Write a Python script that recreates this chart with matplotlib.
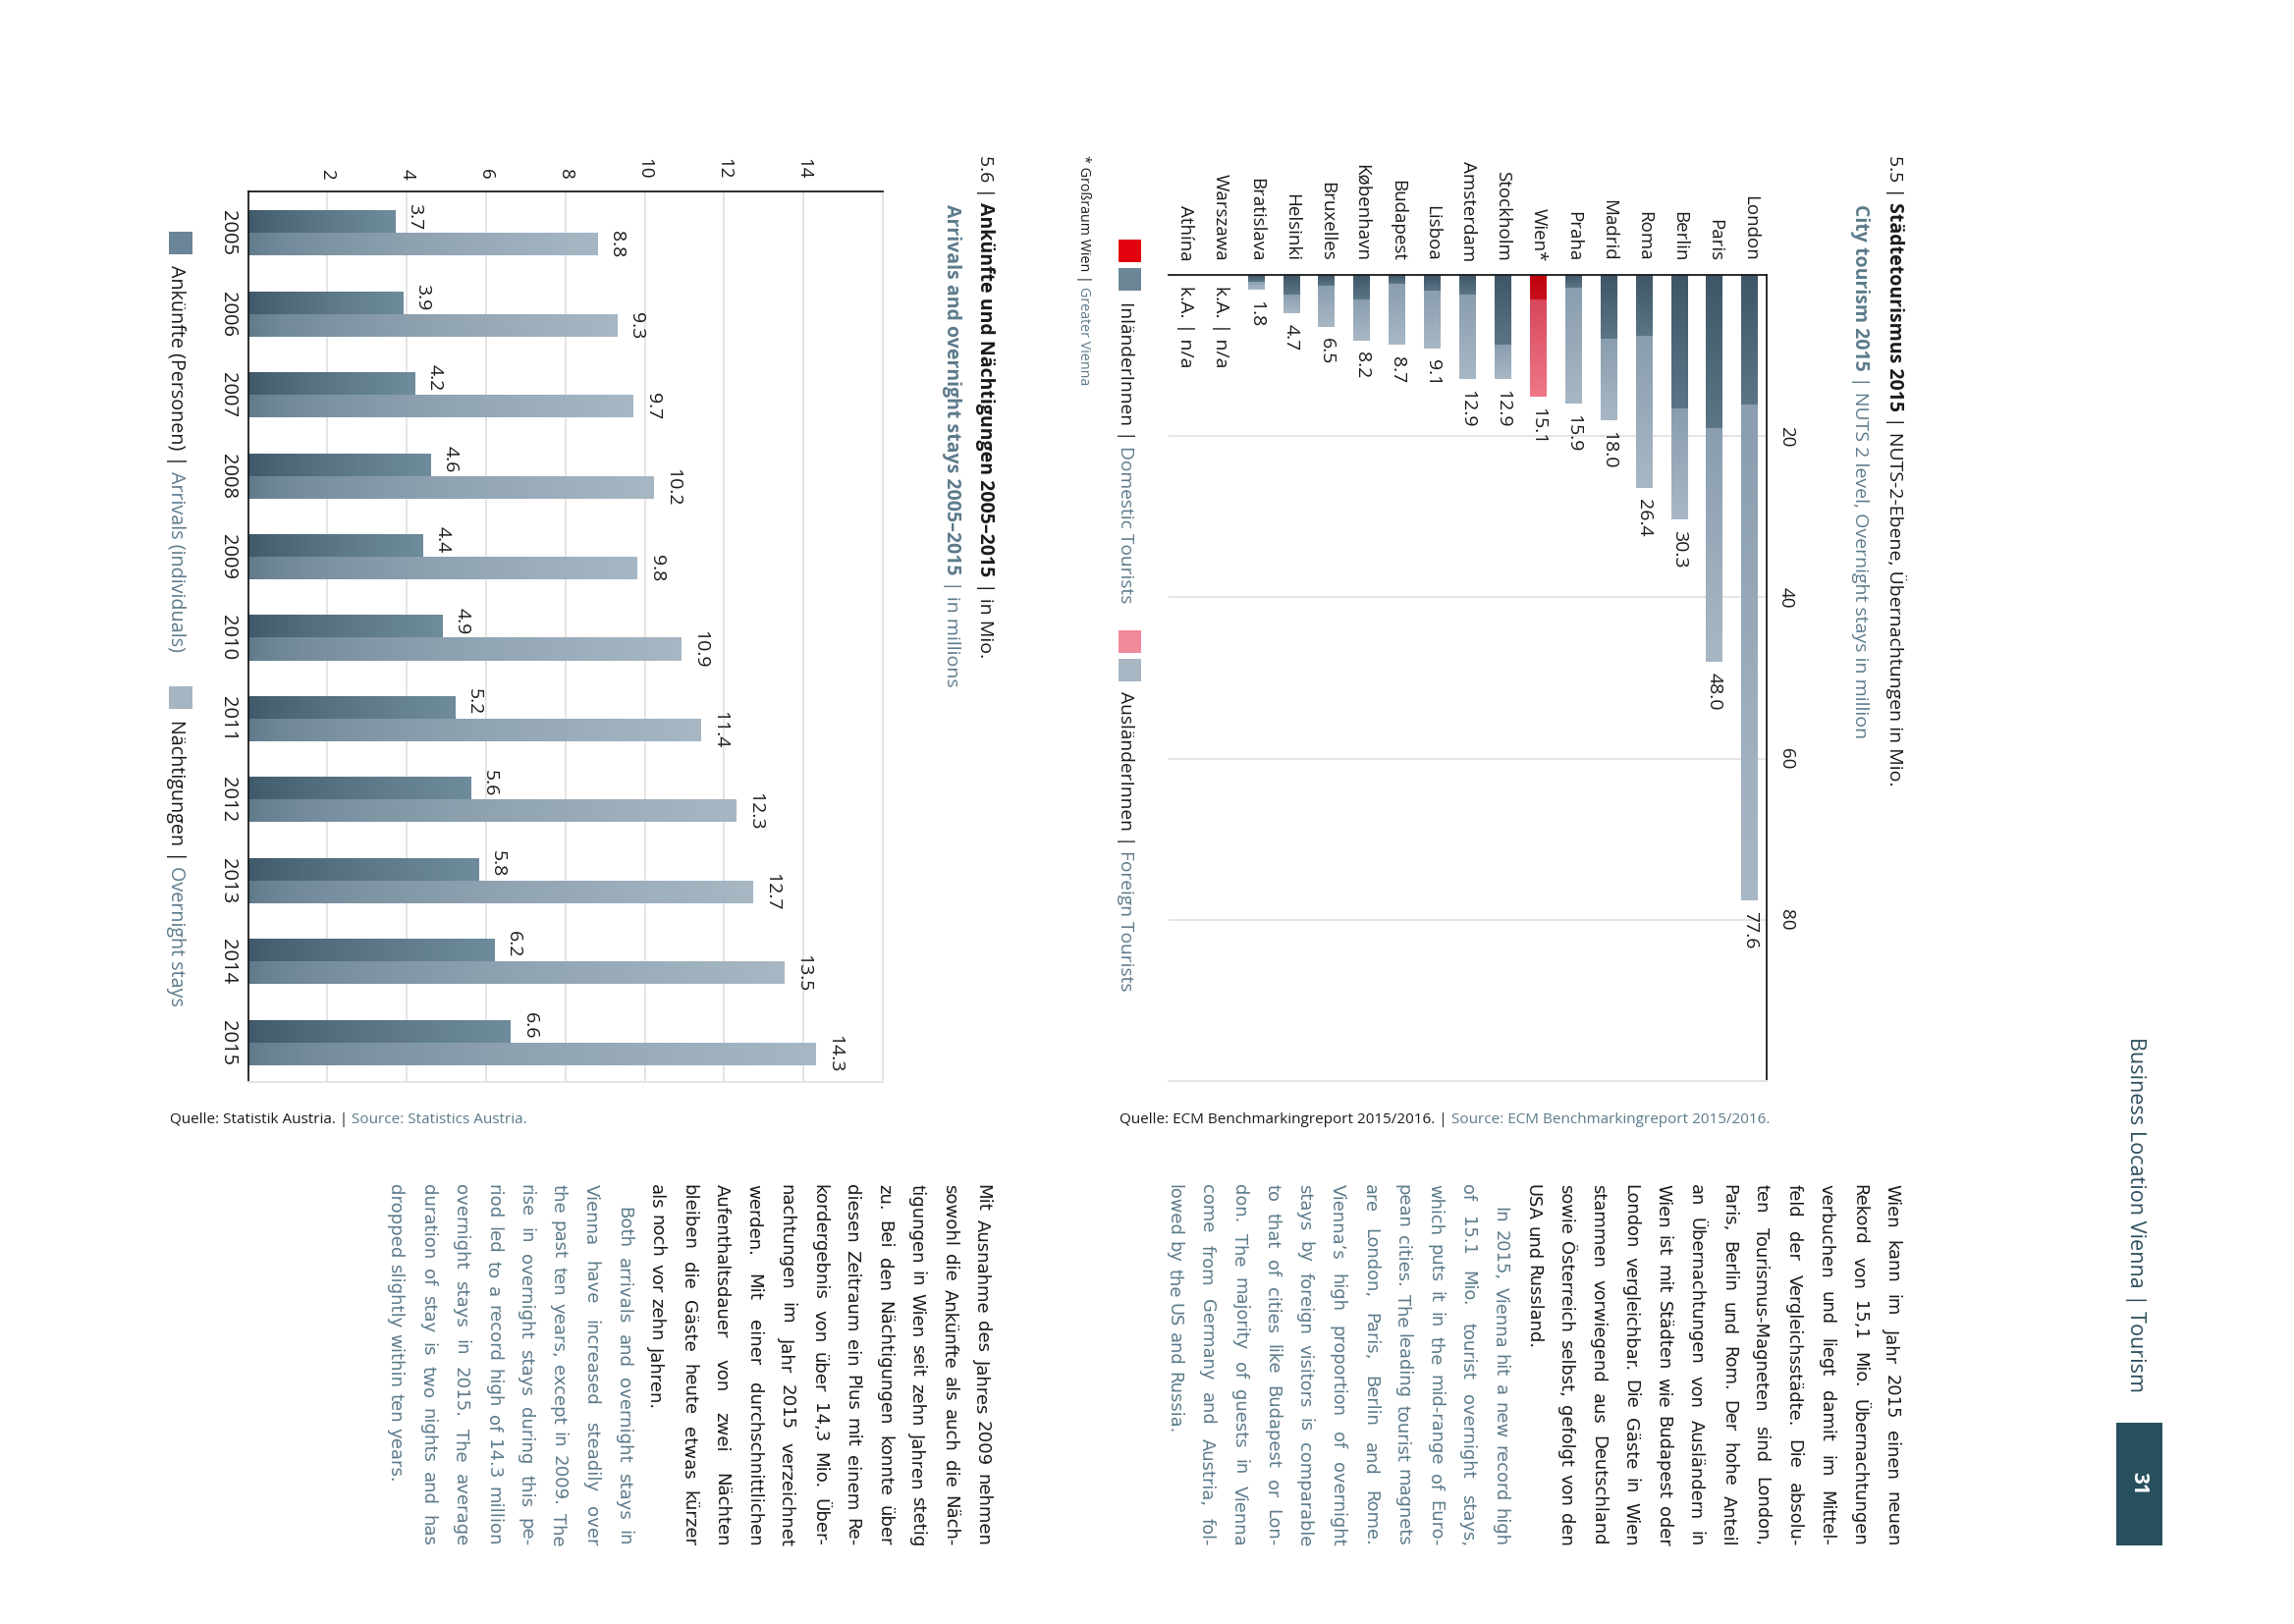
"""
Business Location Vienna, p. 31 (page printed sideways).

5.5  City tourism 2015, overnight stays in million (domestic / foreign)
5.6  Arrivals and overnight stays in Vienna 2005-2015, in millions

Run:
    python plot.py
"""
import numpy as np
import matplotlib
matplotlib.use("Agg")
import matplotlib.pyplot as plt
from matplotlib.colors import to_rgb
from matplotlib.font_manager import FontProperties
from matplotlib.patches import Rectangle

W, H = 2336, 1654
INK   = "#1a1a1a"
SLATE = "#5c7a8b"
GRID  = "#e4e4e4"
TEAL  = "#27505f"

CHART_FONT  = ["Open Sans", "DejaVu Sans"]
BODY_FONT   = ["DejaVu Sans"]
NARROW_FONT = ["Liberation Sans Narrow", "Open Sans", "DejaVu Sans"]

plt.rcParams.update({
    "font.family": CHART_FONT,
    "text.color": INK, "axes.edgecolor": INK,
    "xtick.color": INK, "ytick.color": INK,
})

# ---- 5.5 Städtetourismus 2015 (Mio. Übernachtungen)
CITIES = ["London", "Paris", "Berlin", "Roma", "Madrid", "Praha", "Wien*",
          "Stockholm", "Amsterdam", "Lisboa", "Budapest", "København",
          "Bruxelles", "Helsinki", "Bratislava", "Warszawa", "Athína"]
CITY_TOTAL    = [77.6, 48.0, 30.3, 26.4, 18.0, 15.9, 15.1, 12.9, 12.9,
                 9.1, 8.7, 8.2, 6.5, 4.7, 1.8, np.nan, np.nan]
CITY_DOMESTIC = [16.1, 19.0, 16.6, 7.6, 7.9, 1.6, 3.0, 8.6, 2.4,
                 1.9, 1.1, 3.1, 1.3, 2.4, 0.8, np.nan, np.nan]
CITY_TICKS = [20, 40, 60, 80]
NA_LABEL = "k.A. | n/a"

# ---- 5.6 Ankünfte und Nächtigungen 2005-2015 (Mio.)
YEARS     = [2005, 2006, 2007, 2008, 2009, 2010, 2011, 2012, 2013, 2014, 2015]
ARRIVALS  = [3.7, 3.9, 4.2, 4.6, 4.4, 4.9, 5.2, 5.6, 5.8, 6.2, 6.6]
OVERNIGHT = [8.8, 9.3, 9.7, 10.2, 9.8, 10.9, 11.4, 12.3, 12.7, 13.5, 14.3]
YEAR_TICKS = [2, 4, 6, 8, 10, 12, 14]

# ---- body text (justified columns)
TEXT_55_DE = [
    "Wien kann im Jahr 2015 einen neuen",
    "Rekord von 15,1 Mio. Übernachtungen",
    "verbuchen und liegt damit im Mittel-",
    "feld der Vergleichsstädte. Die absolu-",
    "ten Tourismus-Magneten sind London,",
    "Paris, Berlin und Rom. Der hohe Anteil",
    "an Übernachtungen von Ausländern in",
    "Wien ist mit Städten wie Budapest oder",
    "London vergleichbar. Die Gäste in Wien",
    "stammen vorwiegend aus Deutschland",
    "sowie Österreich selbst, gefolgt von den",
    "USA und Russland.",
]
TEXT_55_EN = [
    "In 2015, Vienna hit a new record high",
    "of 15.1 Mio. tourist overnight stays,",
    "which puts it in the mid-range of Euro-",
    "pean cities. The leading tourist magnets",
    "are London, Paris, Berlin and Rome.",
    "Vienna’s high proportion of overnight",
    "stays by foreign visitors is comparable",
    "to that of cities like Budapest or Lon-",
    "don. The majority of guests in Vienna",
    "come from Germany and Austria, fol-",
    "lowed by the US and Russia.",
]
TEXT_56_DE = [
    "Mit Ausnahme des Jahres 2009 nehmen",
    "sowohl die Ankünfte als auch die Näch-",
    "tigungen in Wien seit zehn Jahren stetig",
    "zu. Bei den Nächtigungen konnte über",
    "diesen Zeitraum ein Plus mit einem Re-",
    "kordergebnis von über 14,3 Mio. Über-",
    "nachtungen im Jahr 2015 verzeichnet",
    "werden. Mit einer durchschnittlichen",
    "Aufenthaltsdauer von zwei Nächten",
    "bleiben die Gäste heute etwas kürzer",
    "als noch vor zehn Jahren.",
]
TEXT_56_EN = [
    "Both arrivals and overnight stays in",
    "Vienna have increased steadily over",
    "the past ten years, except in 2009. The",
    "rise in overnight stays during this pe-",
    "riod led to a record high of 14.3 million",
    "overnight stays in 2015. The average",
    "duration of stay is two nights and has",
    "dropped slightly within ten years.",
]

# gradient end points (start at the baseline -> bar end)
BLUE_DOM  = ("#3e5667", "#5b7587")
BLUE_FOR  = ("#8a9eaf", "#a8b7c4")
RED_DOM   = ("#bf000c", "#c9101c")
RED_FOR   = ("#d6465a", "#ef7888")
ARR_GRAD  = ("#3f596a", "#6f8c9d")
OVR_GRAD  = ("#5d7889", "#a7b7c4")

LINE_STEP = 33.2
COL_LEN = 369
BODY_SIZE = 15


def fig_xy(px, py):
    return px / W, 1 - py / H


def add_axes_px(fig, left, top, right, bottom):
    return fig.add_axes([left / W, 1 - bottom / H, (right - left) / W, (bottom - top) / H])


def add_box(fig, x, y, w, h, color):
    fig.add_artist(Rectangle((x / W, 1 - (y + h) / H), w / W, h / H,
                             transform=fig.transFigure, color=color, lw=0))


def text_len(fig, s, fp):
    r = fig.canvas.get_renderer()
    return r.get_text_width_height_descent(s, fp, ismath=False)[0]


def space_len(fig, fp):
    return text_len(fig, "n n", fp) - text_len(fig, "nn", fp)


def vrun(fig, x, y, parts, size, family=CHART_FONT):
    """Text reading downwards, baseline at pixel column x, pieces in different styles."""
    for s, color, weight in parts:
        fp = FontProperties(family=family, size=size, weight=weight)
        fig.text(*fig_xy(x, y), s, rotation=270, rotation_mode="anchor",
                 ha="left", va="baseline", color=color, fontproperties=fp)
        y += text_len(fig, s, fp) + space_len(fig, fp)


def hrun(fig, x, y, parts, size, family=NARROW_FONT):
    for s, color, weight in parts:
        fp = FontProperties(family=family, size=size, weight=weight)
        fig.text(*fig_xy(x, y), s, ha="left", va="center", color=color, fontproperties=fp)
        x += text_len(fig, s, fp) + space_len(fig, fp)


def fit_size(fig, paragraphs, size, length):
    """Largest size <= size at which every justified line still fits the column."""
    fp = FontProperties(family=BODY_FONT, size=size)
    widest = max(text_len(fig, line, fp) for lines in paragraphs for line in lines[:-1])
    return min(size, size * length / (widest * 1.02))


def vjustify(fig, x, y, length, lines, size, color, indent=0):
    """Justified column, one rotated line after the other (right to left)."""
    fp = FontProperties(family=BODY_FONT, size=size)
    sp = space_len(fig, fp)
    for k, line in enumerate(lines):
        words = line.split()
        widths = [text_len(fig, w, fp) for w in words]
        start = y + (indent if k == 0 else 0)
        if k == len(lines) - 1 or len(words) == 1:
            gap = sp
        else:
            gap = max((y + length - start - sum(widths)) / (len(words) - 1), 0.6 * sp)
        pos = start
        for w, wd in zip(words, widths):
            fig.text(*fig_xy(x, pos), w, rotation=270, rotation_mode="anchor",
                     ha="left", va="baseline", color=color, fontproperties=fp)
            pos += wd + gap
        x -= LINE_STEP
    return x


def shade(ax, patch, c0, c1, along, gamma=1.0):
    """Fill a bar with a linear gradient from its base (c0) to its end (c1)."""
    x0, y0 = patch.get_xy()
    w, h = patch.get_width(), patch.get_height()
    if not (np.isfinite(w) and np.isfinite(h)) or w == 0 or h == 0:
        return
    t = np.linspace(0, 1, 256) ** gamma
    rgb = (1 - t)[:, None] * np.array(to_rgb(c0)) + t[:, None] * np.array(to_rgb(c1))
    if along == "y":
        img, extent = rgb[:, None, :], (x0, x0 + w, y0 + h, y0)
    else:
        img, extent = rgb[None, :, :], (x0, x0 + w, y0, y0 + h)
    im = ax.imshow(img, extent=extent, origin="upper", aspect="auto",
                   interpolation="bilinear", zorder=patch.get_zorder() + 0.1)
    im.set_clip_path(patch)


def style_frame(ax, dark, light, off=()):
    for side in dark:
        ax.spines[side].set_color(INK)
        ax.spines[side].set_linewidth(1.3)
    for side in light:
        ax.spines[side].set_color(GRID)
        ax.spines[side].set_linewidth(1.4)
    for side in off:
        ax.spines[side].set_visible(False)


def draw_city_chart(fig):
    ax = add_axes_px(fig, 1190, 280, 1799, 1101)
    x = np.arange(len(CITIES))
    tot = np.array(CITY_TOTAL, float)
    dom = np.array(CITY_DOMESTIC, float)
    ok = np.isfinite(tot)
    wien = CITIES.index("Wien*")

    dom_bars = ax.bar(x[ok], dom[ok], width=0.47, color=BLUE_DOM[1], zorder=2)
    for_bars = ax.bar(x[ok], (tot - dom)[ok], bottom=dom[ok], width=0.47,
                      color=BLUE_FOR[1], zorder=2)
    for i, pd_, pf in zip(x[ok], dom_bars, for_bars):
        shade(ax, pd_, *(RED_DOM if i == wien else BLUE_DOM), "y")
        shade(ax, pf, *(RED_FOR if i == wien else BLUE_FOR), "y")

    for i, v in enumerate(tot):
        lab = f"{v:.1f}" if np.isfinite(v) else NA_LABEL
        ax.annotate(lab, (i, v if np.isfinite(v) else 0), xytext=(0, -8),
                    textcoords="offset points", rotation=270, ha="center", va="top",
                    fontsize=14, color=INK)

    ax.set_xlim(16.48, -0.48)
    ax.set_ylim(100, 0)
    ax.set_xticks(x, CITIES, rotation=270, fontsize=13.5, va="bottom", ha="center")
    ax.set_yticks(CITY_TICKS, [str(t) for t in CITY_TICKS], rotation=270,
                  fontsize=13.5, va="center", ha="left")
    ax.tick_params(axis="x", top=True, bottom=False, labeltop=True,
                   labelbottom=False, length=0, pad=10)
    ax.tick_params(axis="y", right=True, left=False, labelright=True,
                   labelleft=False, length=0, pad=8)
    ax.grid(axis="y", color=GRID, lw=1.4)
    ax.set_axisbelow(True)
    style_frame(ax, dark=("top", "right"), light=("bottom",), off=("left",))

    # titles
    vrun(fig, 1924, 158, [("5.5 |", INK, "normal"),
                          ("Städtetourismus 2015", INK, "bold"),
                          ("| NUTS-2-Ebene, Übernachtungen in Mio.", INK, "normal")], 14)
    vrun(fig, 1889, 208, [("City tourism 2015", SLATE, "bold"),
                          ("| NUTS 2 level, Overnight stays in million", SLATE, "normal")], 14)

    # legend
    add_box(fig, 1139, 244, 23, 23, "#e2000f")
    add_box(fig, 1139, 273, 23, 23, "#6c8698")
    vrun(fig, 1141, 307, [("InländerInnen |", INK, "normal"),
                          ("Domestic Tourists", SLATE, "normal")], 13.8)
    add_box(fig, 1139, 642, 23, 23, "#f0899a")
    add_box(fig, 1139, 671, 23, 23, "#a7b6c3")
    vrun(fig, 1141, 704, [("AusländerInnen |", INK, "normal"),
                          ("Foreign Tourists", SLATE, "normal")], 13.8)
    vrun(fig, 1100, 158, [("* Großraum Wien |", INK, "normal"),
                          ("Greater Vienna", SLATE, "normal")], 10.3, NARROW_FONT)

    hrun(fig, 1140, 1141, [("Quelle: ECM Benchmarkingreport 2015/2016. |", INK, "normal"),
                           ("Source: ECM Benchmarkingreport 2015/2016.", SLATE, "normal")], 11)


def draw_vienna_chart(fig):
    ax = add_axes_px(fig, 252.7, 195.3, 899, 1102)
    y = np.arange(len(YEARS))
    arr_bars = ax.barh(y - 0.14, ARRIVALS, height=0.28, color=ARR_GRAD[1], zorder=2)
    ovr_bars = ax.barh(y + 0.14, OVERNIGHT, height=0.28, color=OVR_GRAD[1], zorder=2)
    for p in arr_bars:
        shade(ax, p, *ARR_GRAD, "x", gamma=0.8)
    for p in ovr_bars:
        shade(ax, p, *OVR_GRAD, "x", gamma=0.55)

    for yi, a, o in zip(y, ARRIVALS, OVERNIGHT):
        for v, yy, dy in ((a, yi - 0.14, 4), (o, yi + 0.14, 0)):
            ax.annotate(f"{v:.1f}", (v, yy), xytext=(8, dy), textcoords="offset points",
                        rotation=270, ha="left", va="center", fontsize=14, color=INK)

    ax.set_xlim(0, 16)
    ax.set_ylim(10.49, -0.51)
    ax.set_xticks(YEAR_TICKS, [str(t) for t in YEAR_TICKS], rotation=270,
                  fontsize=13.5, va="bottom", ha="center")
    ax.set_yticks(y, [str(v) for v in YEARS], rotation=270, fontsize=14.5,
                  va="center", ha="right")
    ax.tick_params(axis="x", top=True, bottom=False, labeltop=True,
                   labelbottom=False, length=0, pad=9)
    ax.tick_params(axis="y", length=0, pad=8)
    ax.grid(axis="x", color=GRID, lw=1.4)
    ax.set_axisbelow(True)
    style_frame(ax, dark=("top", "left"), light=("right", "bottom"))

    vrun(fig, 998, 158, [("5.6 |", INK, "normal"),
                         ("Ankünfte und Nächtigungen 2005–2015", INK, "bold"),
                         ("| in Mio.", INK, "normal")], 14)
    vrun(fig, 964, 208, [("Arrivals and overnight stays 2005–2015", SLATE, "bold"),
                         ("| in millions", SLATE, "normal")], 14)

    add_box(fig, 172, 236, 24, 23, "#6a8597")
    vrun(fig, 174, 270, [("Ankünfte (Personen) |", INK, "normal"),
                         ("Arrivals (individuals)", SLATE, "normal")], 14.2)
    add_box(fig, 172, 699, 24, 23, "#a5b5c2")
    vrun(fig, 174, 733, [("Nächtigungen |", INK, "normal"),
                         ("Overnight stays", SLATE, "normal")], 14.2)

    hrun(fig, 173, 1141, [("Quelle: Statistik Austria. |", INK, "normal"),
                          ("Source: Statistics Austria.", SLATE, "normal")], 11)


def draw_page(fig):
    # running head and page number
    vrun(fig, 2169, 1056, [("Business Location Vienna | Tourism", "#2d4d5e", "normal")], 15.6)
    add_box(fig, 2155, 1449, 47, 125, TEAL)
    fig.text(*fig_xy(2178, 1511), "31", rotation=270, ha="center", va="center",
             color="white", fontsize=15, fontweight="bold")

    # text columns
    size = fit_size(fig, [TEXT_55_DE, TEXT_55_EN], BODY_SIZE, COL_LEN)
    x = vjustify(fig, 1921, 1206, COL_LEN, TEXT_55_DE, size, INK)
    vjustify(fig, x, 1206, COL_LEN, TEXT_55_EN, size, SLATE, indent=23)
    size = fit_size(fig, [TEXT_56_DE, TEXT_56_EN], BODY_SIZE, COL_LEN)
    x = vjustify(fig, 995, 1206, COL_LEN, TEXT_56_DE, size, INK)
    vjustify(fig, x, 1206, COL_LEN, TEXT_56_EN, size, SLATE, indent=23)


if __name__ == "__main__":
    fig = plt.figure(figsize=(W / 100, H / 100), dpi=100, facecolor="white")
    fig.canvas.draw()
    draw_city_chart(fig)
    draw_vienna_chart(fig)
    draw_page(fig)
    fig.savefig("out.png", dpi=100, facecolor="white")
    plt.close(fig)
